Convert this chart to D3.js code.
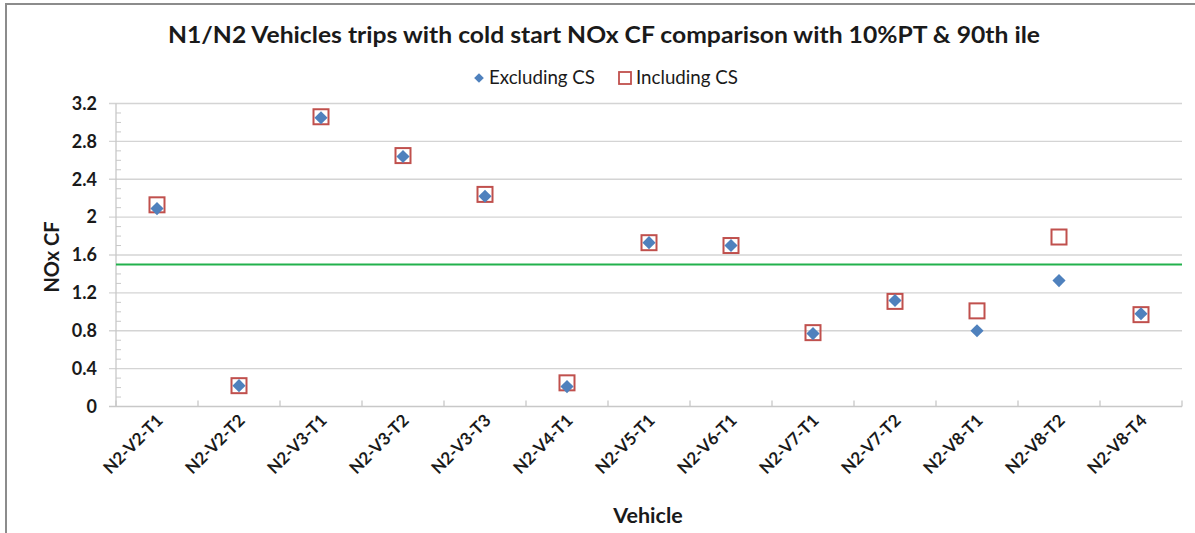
<!DOCTYPE html>
<html><head><meta charset="utf-8">
<script src="https://cdn.jsdelivr.net/npm/d3@7"></script>
<style>body{margin:0;background:#fff}svg{display:block}text{font-family:Lato,"Open Sans",sans-serif}</style>
</head><body>
<svg id="c" width="1195" height="533"></svg>
<script>
const categories = ["N2-V2-T1","N2-V2-T2","N2-V3-T1","N2-V3-T2","N2-V3-T3","N2-V4-T1","N2-V5-T1","N2-V6-T1","N2-V7-T1","N2-V7-T2","N2-V8-T1","N2-V8-T2","N2-V8-T4"];
const excludingCS = [2.09,0.22,3.05,2.64,2.22,0.21,1.73,1.70,0.77,1.12,0.80,1.33,0.98];
const includingCS = [2.13,0.22,3.06,2.65,2.24,0.25,1.73,1.70,0.78,1.11,1.01,1.79,0.97];
const yTicks = [0,0.4,0.8,1.2,1.6,2,2.4,2.8,3.2];
const yMinorTicks = d3.range(0,3.21,0.1).map(v=>+v.toFixed(1));
const limitValue = 1.5;
const title = "N1/N2 Vehicles trips with cold start NOx CF comparison with 10%PT & 90th ile";
const seriesNames = ["Excluding CS","Including CS"];

const svg = d3.select("#c");
const L=116, R=1182, T=103.5, B=406.5;
const x = d3.scaleBand().domain(categories).range([L,R]);
const y = d3.scaleLinear().domain([0,3.2]).range([B,T]);

// frame
svg.append("path").attr("d","M6,533 V4 H1195").attr("fill","none").attr("stroke","#8c8c8c").attr("stroke-width",2);

// gridlines
svg.append("g").selectAll("line").data(yTicks).join("line")
  .attr("x1",L-7).attr("x2",R).attr("y1",d=>y(d)).attr("y2",d=>y(d))
  .attr("stroke",d=>d===0?"#c8c8c8":"#d4d4d4").attr("stroke-width",1.3);
// minor ticks
svg.append("g").selectAll("line").data(yMinorTicks.filter(v=>!yTicks.some(t=>Math.abs(t-v)<1e-6))).join("line")
  .attr("x1",L).attr("x2",L+5).attr("y1",d=>y(d)).attr("y2",d=>y(d)).attr("stroke","#c8c8c8").attr("stroke-width",1);
// y axis line
svg.append("line").attr("x1",L).attr("x2",L).attr("y1",T).attr("y2",B).attr("stroke","#c8c8c8").attr("stroke-width",1.3);
// x ticks
const bounds = categories.map(c=>x(c)).concat([R]);
svg.append("g").selectAll("line").data(bounds).join("line")
  .attr("x1",d=>d).attr("x2",d=>d).attr("y1",B).attr("y2",B-6).attr("stroke","#c8c8c8").attr("stroke-width",1.3);

// y labels
svg.append("g").selectAll("text").data(yTicks).join("text")
  .attr("x",97).attr("y",d=>y(d)).attr("dy","0.35em").attr("text-anchor","end")
  .attr("font-size",18).attr("font-weight","bold").attr("fill","#1a1a1a").text(d=>d);
// x labels
svg.append("g").selectAll("text").data(categories).join("text")
  .attr("transform",d=>`translate(${x(d)+x.bandwidth()/2+7},${B+15}) rotate(-45)`)
  .attr("text-anchor","end").attr("font-size",17).attr("font-weight","bold").attr("fill","#1a1a1a").text(d=>d);

// axis titles
svg.append("text").attr("transform","translate(59,257) rotate(-90)").attr("text-anchor","middle")
  .attr("font-size",20).attr("font-weight","bold").attr("fill","#1a1a1a").text("NOx CF");
svg.append("text").attr("x",648).attr("y",523).attr("text-anchor","middle")
  .attr("font-size",21.5).attr("font-weight","bold").attr("fill","#1a1a1a").text("Vehicle");

// title
svg.append("text").attr("x",604).attr("y",43).attr("text-anchor","middle")
  .attr("font-size",23).attr("font-weight","bold").attr("fill","#1a1a1a")
  .attr("textLength",872).attr("lengthAdjust","spacingAndGlyphs").text(title);

// limit line
svg.append("line").attr("x1",L).attr("x2",R).attr("y1",y(limitValue)).attr("y2",y(limitValue))
  .attr("stroke","#22b14c").attr("stroke-width",2);

const cx = d=>x(d)+x.bandwidth()/2;
const diamond = d3.symbol().type(d3.symbolDiamond2).size(110);
// including squares
svg.append("g").selectAll("rect").data(categories).join("rect")
  .attr("x",(d)=>cx(d)-7.5).attr("y",(d,i)=>y(includingCS[i])-7.5).attr("width",15).attr("height",15)
  .attr("fill","none").attr("stroke","#c0504d").attr("stroke-width",2);
// excluding diamonds
svg.append("g").selectAll("path").data(categories).join("path")
  .attr("transform",(d,i)=>`translate(${cx(d)},${y(excludingCS[i])})`).attr("d",diamond).attr("fill","#4f81bd");

// legend
svg.append("path").attr("transform","translate(479,78)").attr("d",d3.symbol().type(d3.symbolDiamond2).size(60)).attr("fill","#4f81bd");
svg.append("text").attr("x",489).attr("y",78).attr("dy","0.35em").attr("font-size",18.5).attr("fill","#1a1a1a")
  .attr("textLength",106).attr("lengthAdjust","spacingAndGlyphs").text(seriesNames[0]);
svg.append("rect").attr("x",619).attr("y",72).attr("width",12).attr("height",12).attr("fill","none").attr("stroke","#c0504d").attr("stroke-width",1.8);
svg.append("text").attr("x",636).attr("y",78).attr("dy","0.35em").attr("font-size",18.5).attr("fill","#1a1a1a")
  .attr("textLength",102).attr("lengthAdjust","spacingAndGlyphs").text(seriesNames[1]);
</script>
</body></html>
